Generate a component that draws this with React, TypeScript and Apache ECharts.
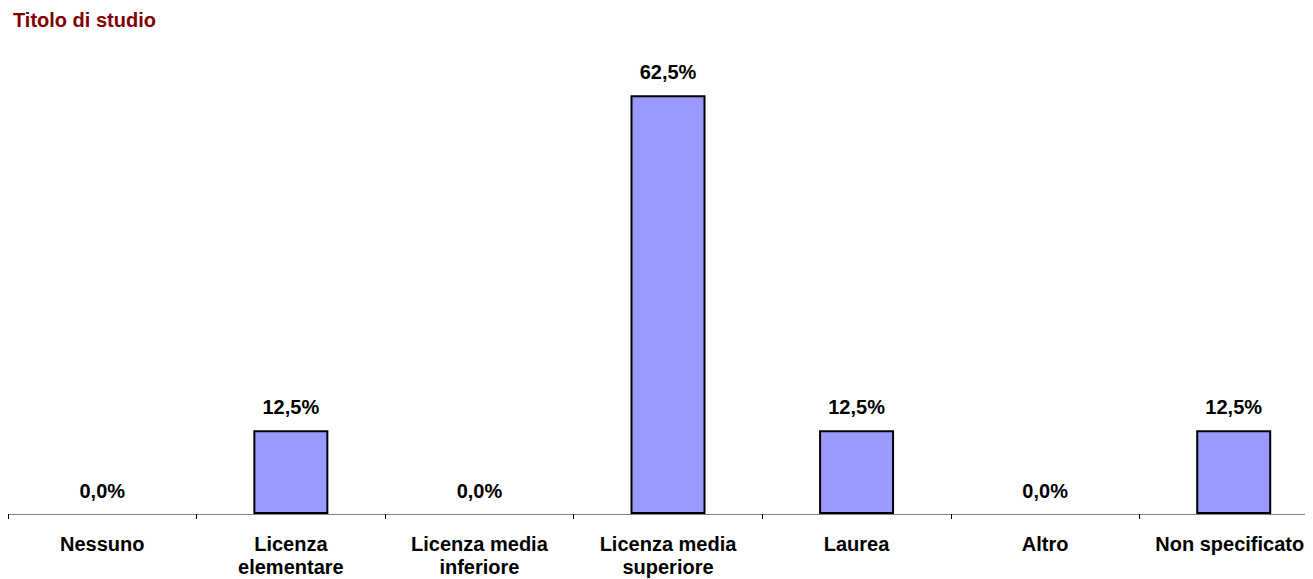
import React, { useEffect, useRef } from "react";
import * as echarts from "echarts";

const categories = [
  "Nessuno",
  "Licenza\nelementare",
  "Licenza media\ninferiore",
  "Licenza media\nsuperiore",
  "Laurea",
  "Altro",
  "Non specificato",
];
const values = [0, 12.5, 0, 62.5, 12.5, 0, 12.5];
const titleText = "Titolo di studio";

const FONT = "'Liberation Sans', Arial, sans-serif";

export default function App() {
  const ref = useRef<HTMLDivElement>(null);
  useEffect(() => {
    document.documentElement.style.overflow = "hidden";
    const chart = echarts.init(ref.current!, null, { renderer: "svg" });
    chart.setOption({
      animation: false,
      title: {
        text: titleText,
        left: 5,
        top: 2,
        padding: 0,
        textStyle: { color: "#800000", fontSize: 20, fontWeight: "bold", fontFamily: FONT, lineHeight: 20 },
      },
      grid: {
        left: 0,
        width: 1320,
        top: 37,
        bottom: 65,
        containLabel: false,
        outerBoundsMode: "none",
      },
      xAxis: {
        type: "category",
        data: categories.map((c, i) =>
          i === categories.length - 1
            ? { value: c, textStyle: { padding: [0, 8, 0, 0] } }
            : c
        ),
        axisLine: { lineStyle: { color: "#808080", width: 1 } },
        axisTick: { show: true, length: 5, lineStyle: { color: "#000" } },
        axisLabel: {
          interval: 0,
          margin: 18,
          color: "#000",
          fontSize: 20,
          fontWeight: "bold",
          fontFamily: FONT,
          lineHeight: 23,
        },
      },
      yAxis: {
        type: "value",
        min: 0,
        max: 70,
        show: false,
        splitLine: { show: false },
      },
      series: [
        {
          type: "bar",
          data: values.map((v) => ({
            value: v,
            itemStyle: v === 0 ? { borderWidth: 0, color: "transparent" } : undefined,
          })),
          barWidth: 75,
          itemStyle: { color: "#9999FF", borderColor: "#000", borderWidth: 2 },
          label: {
            show: true,
            position: "top",
            distance: 13,
            color: "#000",
            fontSize: 20,
            fontWeight: "bold",
            fontFamily: FONT,
            formatter: (p: any) => p.value.toFixed(1).replace(".", ",") + "%",
          },
        },
      ],
    });
    return () => chart.dispose();
  }, []);
  return <div ref={ref} style={{ width: 1305, height: 571 }} />;
}
